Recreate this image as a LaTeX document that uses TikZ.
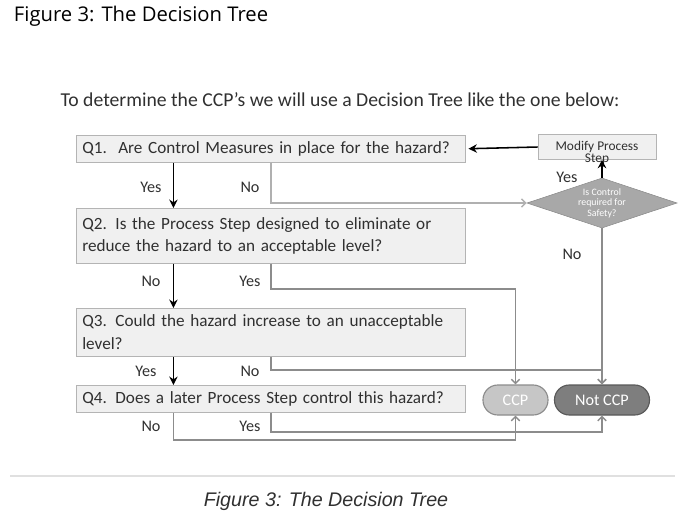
\documentclass[tikz,border=0pt]{standalone}
\usepackage{fontspec}
\setmainfont{Carlito}
\newfontfamily\titlefont{Open Sans}
\newfontfamily\capfont{Liberation Sans}
\usepackage{xcolor}
\usetikzlibrary{arrows.meta, shapes.geometric, calc}

\definecolor{boxfill}{HTML}{F0F0F0}
\definecolor{boxline}{HTML}{B4B4B4}
\definecolor{txt}{HTML}{303030}
\definecolor{linkgray}{HTML}{8C8C8C}
\definecolor{lightlink}{HTML}{B0B0B0}
\definecolor{diafill}{HTML}{A8A8A8}
\definecolor{ccpfill}{HTML}{C6C6C6}
\definecolor{notfill}{HTML}{7E7E7E}

\begin{document}
\begin{tikzpicture}[x=0.025cm, y=-0.025cm,
		qbox/.style={draw=boxline, fill=boxfill, anchor=north west, align=left,
			text width=9.425cm, inner xsep=0.15cm, inner ysep=0pt,
			font=\fontsize{12.2}{16}\selectfont, text=txt},
		lbl/.style={font=\fontsize{11.5}{13}\selectfont, text=txt},
		yesno/.style={draw=black, line width=1.1pt, -{Stealth[length=6pt,width=6pt]}},
		link/.style={draw=linkgray, line width=1pt, -{Straight Barb[length=3pt,width=6pt]}},
		endbox/.style={rounded corners=0.37cm, minimum height=0.75cm, line width=0.8pt,
			font=\fontsize{11.5}{13}\selectfont}]
		\useasboundingbox (0,0) rectangle (700,529);

		% Headings
		\node[anchor=west, font=\titlefont\fontsize{14.4}{16}\selectfont] (title) at (9,16) {Figure 3: The Decision Tree};
		\node[font=\fontsize{14}{16}\selectfont, text=txt] (intro) at (340,100) {To determine the CCP’s we will use a Decision Tree like the one below:};

		% Questions
		\node[qbox, minimum height=0.675cm] (q1) at (76,135) {Q1.\ \ Are Control Measures in place for the hazard?};
		\node[qbox, minimum height=1.375cm] (q2) at (76,208) {Q2. Is the Process Step designed to eliminate or\\reduce the hazard to an acceptable level?};
		\node[qbox, minimum height=1.2cm] (q3) at (76,308) {Q3. Could the hazard increase to an unacceptable\\level?};
		\node[qbox, minimum height=0.675cm] (q4) at (76,385) {Q4. Does a later Process Step control this hazard?};

		% Right hand side
		\node[draw=boxline, fill=boxfill, minimum width=2.95cm, minimum height=0.625cm, inner sep=0pt,
			font=\fontsize{9.5}{10}\selectfont, text=txt,
			label={[font=\fontsize{9.5}{10}\selectfont, text=txt, label distance=-8pt]below:Step}] (mod) at (597,147) {Modify Process};
		\node[diamond, draw=linkgray, fill=diafill, aspect=3, minimum width=3.75cm, minimum height=1.25cm,
			inner sep=0pt, align=center, text=white, font=\fontsize{7}{7.5}\selectfont] (chk) at (602,203) {Is Control\\required for\\Safety?};
		\node[endbox, draw=linkgray, fill=ccpfill, text=white, minimum width=1.625cm] (ccp) at (515.5,400) {CCP};
		\node[endbox, draw=black!65, fill=notfill, text=white, minimum width=2.375cm] (notccp) at (602,400) {Not CCP};

		% Yes / No labels
		\node[lbl] (q1yes) at (151,187) {Yes};
		\node[lbl] (q1no) at (250,187) {No};
		\node[lbl] (q2no) at (151,281) {No};
		\node[lbl] (q2yes) at (250,281) {Yes};
		\node[lbl] (q3yes) at (146,371) {Yes};
		\node[lbl] (q3no) at (250,371) {No};
		\node[lbl] (q4no) at (151,426) {No};
		\node[lbl] (q4yes) at (250,426) {Yes};
		\node[lbl] (chkyes) at (567,177) {Yes};
		\node[lbl] (chkno) at (572,254) {No};

		% Elbows
		\coordinate (j2) at (515.5,289);
		\coordinate (j3) at (602,370);
		\coordinate (j4) at (515.5,440);
		\coordinate (j5) at (602,432);

		% Connectors
		\foreach \a/\b in {q1/q2, q2/q3, q3/q4}
			\draw[yesno] ($(\a.south west)!.25!(\a.south east)$) -- ($(\b.north west)!.25!(\b.north east)$);
		\draw[yesno, shorten >=2pt] (mod.west) -- (q1.east);
		\draw[yesno, line width=0.9pt] (chk.north) -- (chk.north |- mod.south);
		\draw[link, draw=lightlink] (q1.south) |- (chk.west);
		\draw[link] (q2.south) |- (j2) -- (ccp.north);
		\draw[link] (q3.south) |- (j3) -- (notccp.north);
		\draw[link] (chk.south) -- (notccp.north);
		\draw[link] ($(q4.south west)!.25!(q4.south east)$) |- (j4) -- (ccp.south);
		\draw[link] (q4.south) |- (j5) -- (notccp.south);

		% Caption
		\draw[black!12, line width=1.5pt] (10,476) -- (675,476);
		\node[font=\capfont\itshape\fontsize{14}{16}\selectfont, text=txt] (caption) at (326,501) {Figure 3: The Decision Tree};
	\end{tikzpicture}
\end{document}
